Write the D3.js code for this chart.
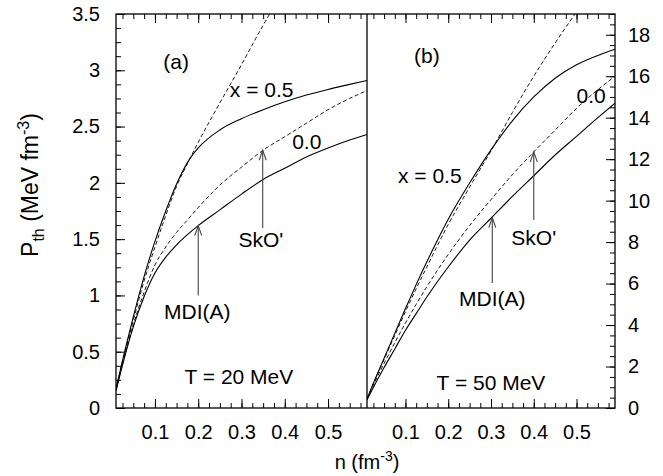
<!DOCTYPE html>
<html>
<head>
<meta charset="utf-8">
<script src="https://cdn.jsdelivr.net/npm/d3@7"></script>
<style>
  body { margin: 0; background: #fff; }
  svg { display: block; font-family: "Liberation Sans", Arial, Helvetica, sans-serif; }
  .tick text { font-size: 20px; fill: #000; }
</style>
</head>
<body>
<div id="chart"></div>
<script>
const width = 663;
const height = 476;

// density grid (fm^-3)
const nGrid = [0.01, 0.025, 0.05, 0.075, 0.1, 0.125, 0.15, 0.175, 0.2, 0.25, 0.3, 0.35, 0.4, 0.45, 0.5, 0.55, 0.59];

// (a) T = 20 MeV, P_th in MeV fm^-3
const mdiX05_T20 = [0.17, 0.42, 0.81, 1.17, 1.48, 1.75, 1.99, 2.18, 2.31, 2.47, 2.57, 2.65, 2.72, 2.78, 2.83, 2.875, 2.91];
const skoX05_T20 = [0.17, 0.41, 0.78, 1.13, 1.43, 1.71, 1.97, 2.17, 2.36, 2.71, 3.05, 3.4, 3.72];
const mdiX0_T20 = [0.15, 0.38, 0.72, 0.99, 1.2, 1.34, 1.45, 1.54, 1.62, 1.76, 1.9, 2.03, 2.13, 2.23, 2.31, 2.38, 2.43];
const skoX0_T20 = [0.16, 0.39, 0.74, 1.03, 1.27, 1.43, 1.56, 1.67, 1.78, 1.98, 2.14, 2.29, 2.41, 2.53, 2.65, 2.75, 2.82];

// (b) T = 50 MeV
const mdiX05_T50 = [0.45, 1.2, 2.4, 3.6, 4.8, 5.95, 7.05, 8.1, 9.1, 10.85, 12.45, 13.85, 15.0, 15.9, 16.55, 17.0, 17.3];
const skoX05_T50 = [0.45, 1.18, 2.35, 3.5, 4.65, 5.75, 6.8, 7.85, 8.85, 10.65, 12.4, 14.25, 16.0, 17.6, 19.1];
const mdiX0_T50 = [0.4, 1.0, 1.95, 2.85, 3.75, 4.55, 5.35, 6.1, 6.8, 8.1, 9.15, 10.2, 11.2, 12.2, 13.1, 14.0, 14.7];
const skoX0_T50 = [0.42, 1.1, 2.15, 3.15, 4.1, 5.0, 5.85, 6.65, 7.4, 8.8, 10.05, 11.25, 12.35, 13.4, 14.45, 15.35, 16.0];

// tick values
const xMajor = [0.1, 0.2, 0.3, 0.4, 0.5];
const xMinor = d3.range(1, 24).map(i => i * 0.025);
const yLeftMajor = d3.range(0, 8).map(i => i * 0.5);
const yLeftMinor = d3.range(0, 29).map(i => i * 0.125);
const yRightMajor = d3.range(0, 10).map(i => i * 2);
const yRightMinor = d3.range(0, 39).map(i => i * 0.5);

// annotations in data units: [text, n, P, anchor]
const textsA = [["(a)", 0.149, 3.01, "middle"], ["x = 0.5", 0.273, 2.76, "start"], ["0.0", 0.417, 2.30, "start"],
                ["SkO'", 0.345, 1.43, "middle"], ["MDI(A)", 0.198, 0.79, "middle"], ["T = 20 MeV", 0.294, 0.21, "middle"]];
const textsB = [["(b)", 0.150, 16.66, "middle"], ["x = 0.5", 0.0825, 10.87, "start"], ["0.0", 0.50, 14.7, "start"],
                ["SkO'", 0.40, 7.85, "middle"], ["MDI(A)", 0.303, 4.9, "middle"], ["T = 50 MeV", 0.30, 0.85, "middle"]];
// arrows: [n, tip P, tail P]
const arrowsA = [[0.349, 2.29, 1.6], [0.2, 1.62, 1.0]];
const arrowsB = [[0.40, 12.35, 9.06], [0.303, 9.18, 6.03]];

const pTop = 14, pBottom = 408, pLeft = 116, pMid = 367, pRight = 615;

const xL = d3.scaleLinear().domain([0.01, 0.59]).range([pLeft, pMid]);
const xR = d3.scaleLinear().domain([0.01, 0.59]).range([pMid, pRight]);
const yL = d3.scaleLinear().domain([0, 3.5]).range([pBottom, pTop]);
const yR = d3.scaleLinear().domain([0, 19]).range([pBottom, pTop]);

const svg = d3.select('#chart').append('svg').attr('width', width).attr('height', height);
svg.append('rect').attr('width', width).attr('height', height).attr('fill', '#fff');

const defs = svg.append('defs');
defs.append('clipPath').attr('id', 'clipA').append('rect')
  .attr('x', pLeft).attr('y', pTop).attr('width', pMid - pLeft).attr('height', pBottom - pTop);
defs.append('clipPath').attr('id', 'clipB').append('rect')
  .attr('x', pMid).attr('y', pTop).attr('width', pRight - pMid).attr('height', pBottom - pTop);

function cleanAxis(g) {
  g.select('.domain').remove();
  g.selectAll('.tick line').attr('stroke', '#000').attr('stroke-width', 1);
}

// x ticks for both panels, top and bottom
[xL, xR].forEach(x => {
  svg.append('g').attr('transform', `translate(0,${pBottom})`)
    .call(d3.axisBottom(x).tickValues(xMinor).tickSize(-5).tickFormat('')).call(cleanAxis);
  svg.append('g').attr('transform', `translate(0,${pBottom})`)
    .call(d3.axisBottom(x).tickValues(xMajor).tickSize(-9).tickPadding(17).tickFormat(d3.format('.1f'))).call(cleanAxis);
  svg.append('g').attr('transform', `translate(0,${pTop})`)
    .call(d3.axisTop(x).tickValues(xMinor).tickSize(-5).tickFormat('')).call(cleanAxis);
  svg.append('g').attr('transform', `translate(0,${pTop})`)
    .call(d3.axisTop(x).tickValues(xMajor).tickSize(-9).tickFormat('')).call(cleanAxis);
});

// left y axis
svg.append('g').attr('transform', `translate(${pLeft},0)`)
  .call(d3.axisLeft(yL).tickValues(yLeftMinor).tickSize(-5).tickFormat('')).call(cleanAxis);
svg.append('g').attr('transform', `translate(${pLeft},0)`)
  .call(d3.axisLeft(yL).tickValues(yLeftMajor).tickSize(-9).tickPadding(16).tickFormat(d3.format('~g'))).call(cleanAxis);

// right y axis
svg.append('g').attr('transform', `translate(${pRight},0)`)
  .call(d3.axisRight(yR).tickValues(yRightMinor).tickSize(-5).tickFormat('')).call(cleanAxis);
svg.append('g').attr('transform', `translate(${pRight},0)`)
  .call(d3.axisRight(yR).tickValues(yRightMajor).tickSize(-9).tickPadding(13).tickFormat(d3.format('d'))).call(cleanAxis);

svg.selectAll('.tick text').attr('font-family', null).attr('font-size', null);

// frame
svg.append('rect').attr('x', pLeft).attr('y', pTop).attr('width', pRight - pLeft).attr('height', pBottom - pTop)
  .attr('fill', 'none').attr('stroke', '#000').attr('stroke-width', 1.3);
svg.append('line').attr('x1', pMid).attr('x2', pMid).attr('y1', pTop).attr('y2', pBottom)
  .attr('stroke', '#000').attr('stroke-width', 1.3);

function drawPanel(x, y, clip, series, texts, arrows) {
  const g = svg.append('g').attr('clip-path', `url(#${clip})`);
  series.forEach(([vals, dashed]) => {
    const pts = vals.map((v, i) => [nGrid[i], v]);
    const line = d3.line().x(d => x(d[0])).y(d => y(d[1])).curve(d3.curveMonotoneX);
    g.append('path').datum(pts).attr('d', line)
      .attr('fill', 'none').attr('stroke', '#000')
      .attr('stroke-width', dashed ? 0.9 : 1.1)
      .attr('stroke-dasharray', dashed ? '4,2.5' : null);
  });
  arrows.forEach(([n, tip, tail]) => {
    const ax = x(n), ty = y(tip), by = y(tail);
    svg.append('line').attr('x1', ax).attr('x2', ax).attr('y1', ty).attr('y2', by)
      .attr('stroke', '#444').attr('stroke-width', 1.1);
    svg.append('path').attr('d', `M${ax - 3.5},${ty + 10}L${ax},${ty}L${ax + 3.5},${ty + 10}`)
      .attr('fill', 'none').attr('stroke', '#444').attr('stroke-width', 1.1);
  });
  texts.forEach(([t, n, p, anchor]) => {
    svg.append('text').attr('x', x(n)).attr('y', y(p)).attr('text-anchor', anchor)
      .attr('font-size', 21).text(t);
  });
}

drawPanel(xL, yL, 'clipA',
  [[mdiX05_T20, false], [skoX05_T20, true], [mdiX0_T20, false], [skoX0_T20, true]], textsA, arrowsA);
drawPanel(xR, yR, 'clipB',
  [[mdiX05_T50, false], [skoX05_T50, true], [mdiX0_T50, false], [skoX0_T50, true]], textsB, arrowsB);

// axis titles
const xt = svg.append('text').attr('x', pMid).attr('y', 469).attr('text-anchor', 'middle').attr('font-size', 20);
xt.append('tspan').text('n (fm');
xt.append('tspan').attr('dy', -8).attr('font-size', 14).text('-3');
xt.append('tspan').attr('dy', 8).text(')');

const yt = svg.append('text').attr('transform', 'translate(38,185) rotate(-90)')
  .attr('text-anchor', 'middle').attr('font-size', 23);
yt.append('tspan').text('P');
yt.append('tspan').attr('dy', 6).attr('font-size', 16).text('th');
yt.append('tspan').attr('dy', -6).text(' (MeV fm');
yt.append('tspan').attr('dy', -9).attr('font-size', 16).text('-3');
yt.append('tspan').attr('dy', 9).text(')');
</script>
</body>
</html>
